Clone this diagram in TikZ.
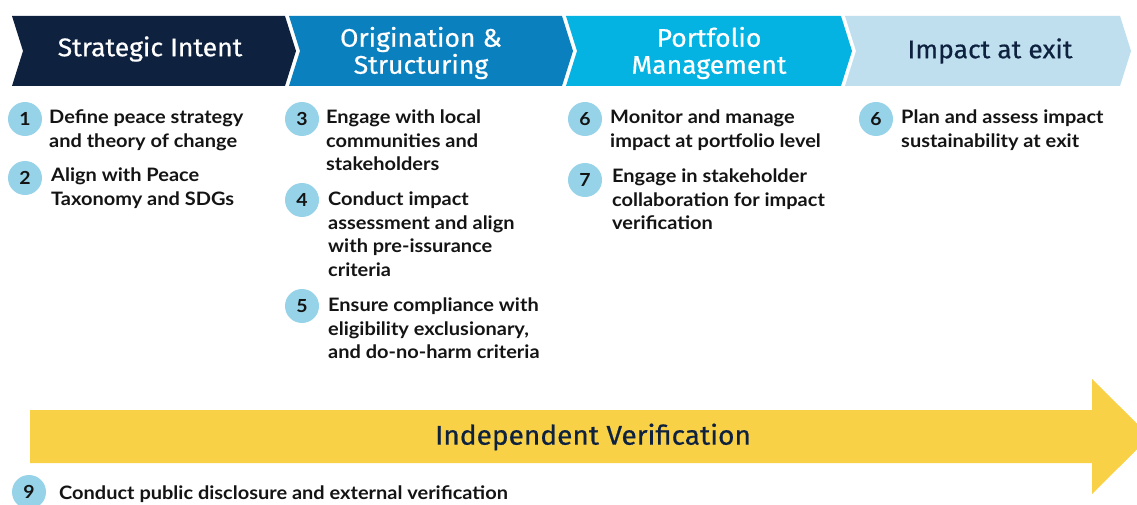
\documentclass[tikz,border=0pt]{standalone}
\usepackage{fontspec}
\setmainfont{Lato}
\newfontfamily\itemfont[FakeStretch=1.08]{Lato}
\newfontfamily\headfont[FakeStretch=1.04, FakeBold=0.6]{Fira Sans}
\definecolor{navy}{HTML}{0E2240}
\definecolor{oblue}{HTML}{0A80BE}
\definecolor{cyanb}{HTML}{04B3E2}
\definecolor{paleb}{HTML}{BFDFEF}
\definecolor{dotc}{HTML}{96D3E8}
\definecolor{goldbar}{HTML}{F9D147}
\definecolor{itemtxt}{HTML}{141414}
\tikzset{
  headtxt/.style={font=\headfont\fontsize{25.5}{27}\selectfont, align=center, inner sep=0},
  numdot/.style={circle, fill=dotc, minimum size=34pt, inner sep=0,
    font=\itemfont\bfseries\fontsize{18}{20}\selectfont, text=itemtxt},
  itembox/.style={anchor=north west, inner sep=0, align=left,
    font=\itemfont\bfseries\fontsize{18.5}{23.5}\selectfont, text=itemtxt},
}
% chevron: left x, right x (top corners), band from y=16 to y=86
\newcommand{\chev}[3]{%
  \fill[#3] (#1,16) -- (#2,16) -- (#2+11,51) -- (#2,86) -- (#1,86) -- (#1+11,51) -- cycle;}
\begin{document}
\begin{tikzpicture}[x=1pt,y=-1pt]
\clip (0,0) rectangle (1137,505);
\fill[white] (0,0) rectangle (1137,505);

% phase chevrons
\chev{12}{285}{navy}
\chev{289}{562}{oblue}
\chev{566}{841}{cyanb}
\chev{845}{1120}{paleb}

\node[headtxt, text=white] (h1) at (150,49) {Strategic Intent};
\node[headtxt, text=white] (h2) at (421,53) {Origination \&\\Structuring};
\node[headtxt, text=white] (h3) at (709,53) {Portfolio\\Management};
\node[headtxt, text=navy]  (h4) at (990,51) {Impact at exit};

% steps
\node[numdot] (n1) at (25,119) {1};
\node[itembox] (t1) at (49,110) {Define peace strategy\\and theory of change};
\node[numdot] (n2) at (25,178) {2};
\node[itembox] (t2) at (51,168) {Align with Peace\\Taxonomy and SDGs};

\node[numdot] (n3) at (302,119) {3};
\node[itembox] (t3) at (326,110) {Engage with local\\communities and\\stakeholders};
\node[numdot] (n4) at (302,200) {4};
\node[itembox] (t4) at (328,192) {Conduct impact\\assessment and align\\with pre-issurance\\criteria};
\node[numdot] (n5) at (302,306) {5};
\node[itembox] (t5) at (328,298) {Ensure compliance with\\eligibility exclusionary,\\and do-no-harm criteria};

\node[numdot] (n6) at (585,119) {6};
\node[itembox] (t6) at (610,110) {Monitor and manage\\impact at portfolio level};
\node[numdot] (n7) at (585,180) {7};
\node[itembox] (t7) at (612,169) {Engage in stakeholder\\collaboration for impact\\verification};

\node[numdot] (n8) at (876,119) {6};
\node[itembox] (t8) at (901,110) {Plan and assess impact\\sustainability at exit};

% verification arrow
\fill[goldbar] (30,410) -- (1092,410) -- (1092,379) -- (1150,436.5)
  -- (1092,494) -- (1092,463) -- (30,463) -- cycle;
\node[font=\headfont\fontsize{27}{30}\selectfont, text=navy, inner sep=0] (iv) at (593,437) {Independent Verification};

\node[numdot] (n9) at (29,492) {9};
\node[itembox] (t9) at (59,486) {Conduct public disclosure and external verification};
\end{tikzpicture}
\end{document}
